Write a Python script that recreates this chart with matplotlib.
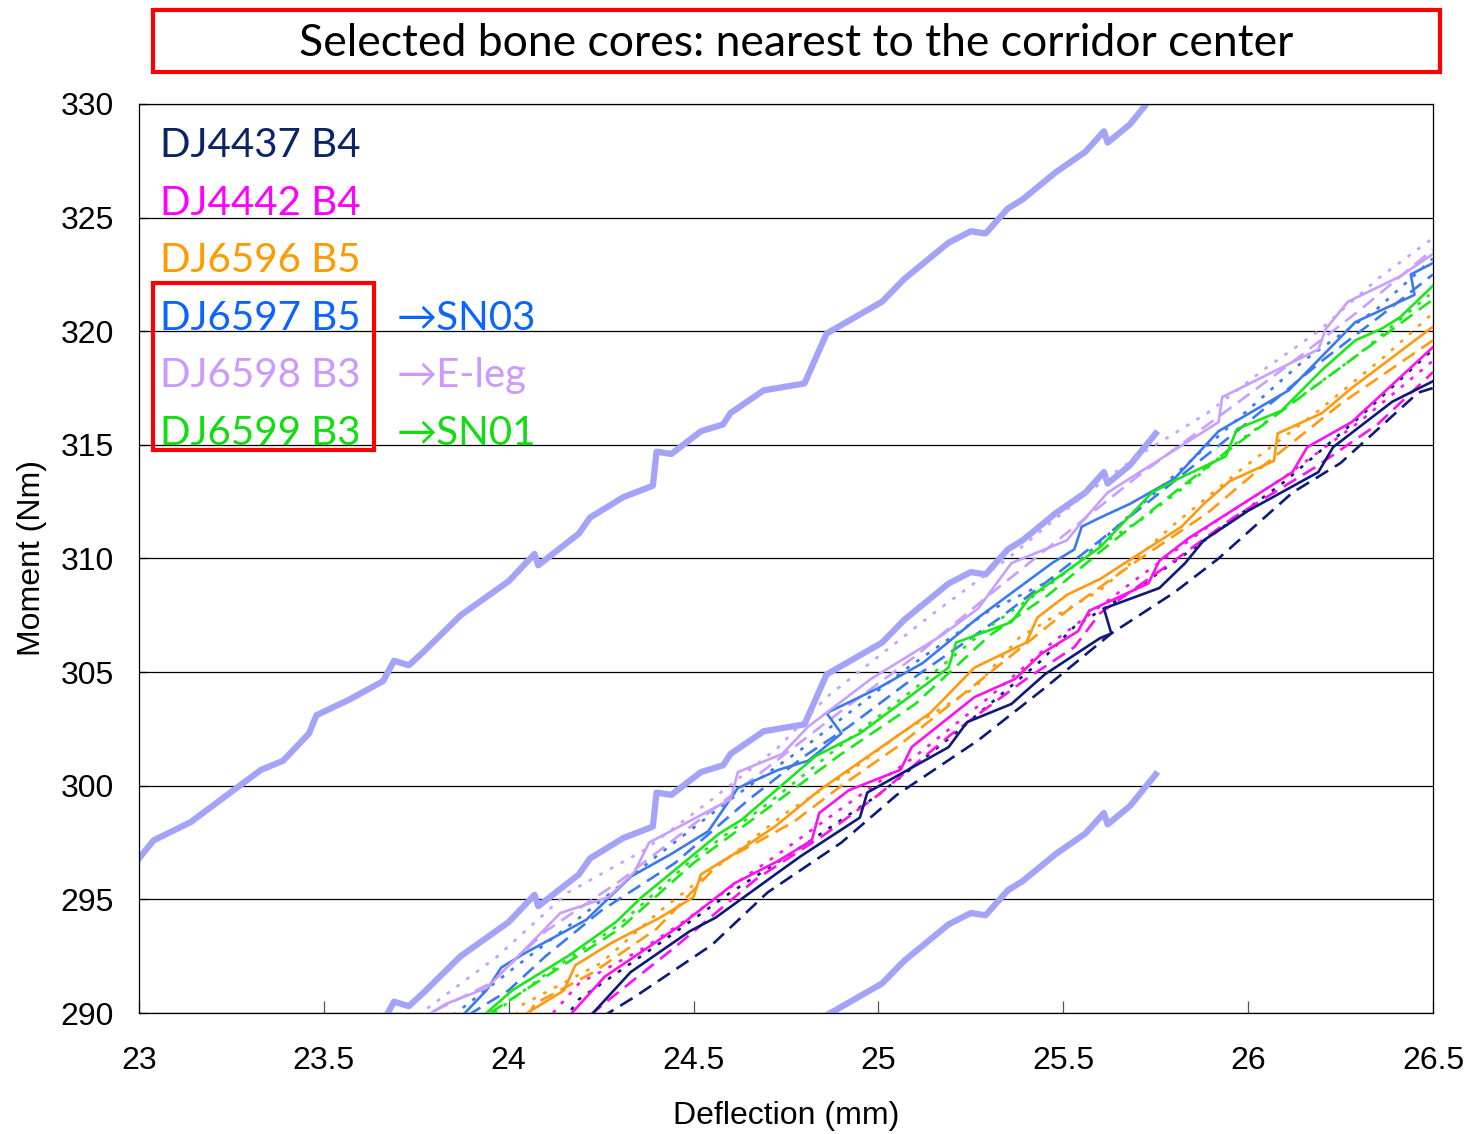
import matplotlib
matplotlib.use('Agg')
import matplotlib.pyplot as plt
from matplotlib.patches import Rectangle

# corridor (upper / center / lower), all on the same deflection points
corr_x = [23.00, 23.04, 23.14, 23.33, 23.39, 23.46, 23.48, 23.57, 23.66, 23.69, 23.73, 23.77, 23.87,
          24.00, 24.07, 24.08, 24.19, 24.22, 24.31, 24.39, 24.40, 24.44, 24.52, 24.58, 24.60, 24.69,
          24.80, 24.86, 25.01, 25.07, 25.19, 25.25, 25.29, 25.35, 25.39, 25.48, 25.56, 25.61, 25.62,
          25.68, 25.75]
corr_upper = [296.8, 297.6, 298.4, 300.7, 301.1, 302.3, 303.1, 303.8, 304.6, 305.5, 305.3, 305.9, 307.5,
              309.0, 310.2, 309.7, 311.1, 311.8, 312.7, 313.2, 314.7, 314.6, 315.6, 315.9, 316.4, 317.4,
              317.7, 319.9, 321.3, 322.3, 323.9, 324.4, 324.3, 325.4, 325.8, 327.0, 327.9, 328.8, 328.3,
              329.1, 330.5]
corr_center = [281.8, 282.6, 283.4, 285.7, 286.1, 287.3, 288.1, 288.8, 289.6, 290.5, 290.3, 290.9, 292.5,
               294.0, 295.2, 294.7, 296.1, 296.8, 297.7, 298.2, 299.7, 299.6, 300.6, 300.9, 301.4, 302.4,
               302.7, 304.9, 306.3, 307.3, 308.9, 309.4, 309.3, 310.4, 310.8, 312.0, 312.9, 313.8, 313.3,
               314.1, 315.5]
corr_lower = [266.8, 267.6, 268.4, 270.7, 271.1, 272.3, 273.1, 273.8, 274.6, 275.5, 275.3, 275.9, 277.5,
              279.0, 280.2, 279.7, 281.1, 281.8, 282.7, 283.2, 284.7, 284.6, 285.6, 285.9, 286.4, 287.4,
              287.7, 289.9, 291.3, 292.3, 293.9, 294.4, 294.3, 295.4, 295.8, 297.0, 297.9, 298.8, 298.3,
              299.1, 300.5]

# DJ4437 B4
dj4437_solid_x = [24.20, 24.33, 24.49, 24.56, 24.73, 24.79, 24.95, 24.97, 25.19, 25.24, 25.36, 25.45,
                  25.60, 25.63, 25.61, 25.76, 25.83, 25.88, 26.00, 26.19, 26.23, 26.39, 26.50]
dj4437_solid_y = [289.5, 291.8, 293.6, 294.2, 296.2, 296.9, 298.6, 299.7, 301.7, 302.8, 303.6, 304.9,
                  306.5, 306.7, 307.8, 308.7, 309.8, 310.8, 312.1, 313.8, 314.9, 316.9, 317.8]
dj4437_dash_x = [24.25, 24.34, 24.55, 24.70, 24.90, 25.05, 25.27, 25.45, 25.63, 25.80, 25.92, 26.12,
                 26.25, 26.46, 26.50]
dj4437_dash_y = [289.8, 290.7, 293.0, 295.3, 297.5, 299.6, 302.0, 304.3, 306.7, 308.5, 310.0, 312.9,
                 314.2, 317.3, 317.5]
dj4437_dot_x = [24.15, 24.19, 24.42, 24.60, 24.80, 25.00, 25.20, 25.44, 25.53, 25.70, 25.90, 26.10,
                26.30, 26.50]
dj4437_dot_y = [289.7, 290.6, 293.2, 295.3, 297.4, 299.6, 302.2, 305.5, 307.0, 308.7, 311.0, 313.4,
                316.2, 319.2]

# DJ4442 B4
dj4442_solid_x = [24.16, 24.26, 24.46, 24.61, 24.73, 24.82, 24.84, 24.92, 25.06, 25.09, 25.26, 25.37,
                  25.44, 25.54, 25.57, 25.73, 25.76, 25.84, 26.12, 26.16, 26.28, 26.50]
dj4442_solid_y = [289.8, 291.6, 293.8, 295.7, 296.7, 297.6, 298.8, 299.8, 300.7, 301.7, 303.9, 304.7,
                  305.8, 306.8, 307.7, 308.9, 309.9, 310.9, 313.8, 314.9, 316.0, 319.3]
dj4442_dash_x = [24.22, 24.28, 24.45, 24.67, 24.85, 25.00, 25.20, 25.40, 25.53, 25.60, 25.80, 25.96,
                 26.18, 26.35, 26.50]
dj4442_dash_y = [289.9, 290.7, 292.9, 295.9, 297.8, 299.6, 302.3, 304.7, 306.1, 307.6, 309.9, 311.8,
                 314.0, 315.9, 318.2]
dj4442_dot_x = [24.12, 24.19, 24.27, 24.37, 24.48, 24.64, 24.73, 24.90, 25.10, 25.30, 25.47, 25.69,
                25.90, 26.10, 26.30, 26.50]
dj4442_dot_y = [290.0, 291.3, 292.0, 292.9, 294.1, 296.0, 297.0, 299.0, 301.3, 303.9, 306.3, 309.0,
                311.5, 313.6, 316.0, 318.7]

# DJ6596 B5
dj6596_solid_x = [24.03, 24.15, 24.18, 24.28, 24.41, 24.50, 24.52, 24.61, 24.72, 24.84, 25.14, 25.26,
                  25.40, 25.43, 25.51, 25.60, 25.82, 25.88, 25.95, 26.07, 26.08, 26.20, 26.28, 26.50]
dj6596_solid_y = [289.8, 291.0, 292.1, 293.1, 294.2, 295.1, 296.1, 297.0, 298.2, 299.8, 303.2, 305.2,
                  306.3, 307.4, 308.4, 309.1, 311.4, 312.4, 313.4, 314.3, 315.5, 316.4, 317.5, 320.2]
dj6596_dash_x = [24.05, 24.07, 24.23, 24.40, 24.57, 24.77, 24.90, 25.05, 25.25, 25.51, 25.70, 25.89,
                 26.05, 26.25, 26.50]
dj6596_dash_y = [289.8, 290.4, 291.8, 293.7, 296.6, 298.4, 300.0, 301.7, 304.3, 307.7, 309.9, 312.0,
                 314.2, 316.8, 319.6]
dj6596_dot_x = [24.02, 24.03, 24.25, 24.41, 24.60, 24.75, 24.92, 25.06, 25.26, 25.38, 25.46, 25.60,
                25.80, 25.98, 26.19, 26.37, 26.50]
dj6596_dot_y = [289.9, 290.3, 292.2, 294.5, 296.9, 298.8, 300.6, 302.3, 304.3, 306.5, 307.3, 308.6,
                311.5, 313.9, 316.5, 318.9, 320.8]

# DJ6597 B5
dj6597_solid_x = [23.87, 23.94, 23.98, 24.04, 24.21, 24.33, 24.44, 24.54, 24.62, 24.73, 24.81, 24.90,
                  24.86, 25.00, 25.12, 25.27, 25.37, 25.47, 25.53, 25.55, 25.60, 25.68, 25.80, 25.92,
                  26.11, 26.29, 26.45, 26.44, 26.50]
dj6597_solid_y = [289.8, 291.0, 292.0, 292.6, 294.1, 296.0, 297.0, 298.0, 299.9, 300.7, 301.1, 302.3,
                  303.2, 304.3, 305.4, 307.4, 308.6, 309.8, 310.4, 311.4, 311.8, 312.4, 313.5, 315.6,
                  317.4, 320.4, 321.6, 322.5, 323.0]
dj6597_dash_x = [23.89, 24.00, 24.10, 24.25, 24.45, 24.65, 24.80, 24.92, 25.10, 25.33, 25.60, 25.80,
                 26.00, 26.20, 26.36, 26.50]
dj6597_dash_y = [289.9, 291.0, 292.5, 294.5, 296.6, 299.4, 301.3, 302.6, 304.8, 307.4, 310.8, 313.4,
                 316.0, 318.7, 320.7, 322.5]
dj6597_dot_x = [23.85, 24.00, 24.20, 24.40, 24.60, 24.80, 25.08, 25.30, 25.51, 25.70, 25.90, 26.15,
                26.35, 26.50]
dj6597_dot_y = [289.9, 291.8, 294.3, 296.9, 299.4, 301.7, 305.2, 307.7, 309.4, 312.2, 315.1, 318.7,
                321.0, 323.2]

# DJ6598 B3
dj6598_solid_x = [23.79, 23.83, 23.94, 24.05, 24.14, 24.27, 24.34, 24.38, 24.60, 24.62, 24.74, 24.81,
                  24.98, 25.17, 25.27, 25.36, 25.51, 25.55, 25.62, 25.92, 25.93, 26.14, 26.19, 26.21,
                  26.27, 26.41, 26.50]
dj6598_solid_y = [290.0, 290.4, 291.1, 292.9, 294.4, 295.1, 296.2, 297.5, 299.4, 300.6, 301.4, 302.6,
                  304.7, 306.6, 307.8, 309.8, 310.8, 311.6, 312.9, 316.0, 317.1, 318.8, 319.2, 320.1,
                  321.3, 322.4, 323.4]
dj6598_dash_x = [23.80, 23.95, 24.10, 24.30, 24.50, 24.70, 24.90, 25.10, 25.30, 25.50, 25.70, 25.90,
                 26.10, 26.30, 26.50]
dj6598_dash_y = [290.1, 291.3, 293.6, 295.8, 298.3, 300.8, 303.3, 305.7, 308.4, 311.0, 313.6, 316.0,
                 318.4, 320.9, 323.6]
dj6598_dot_x = [23.78, 23.97, 24.16, 24.37, 24.55, 24.73, 24.86, 25.15, 25.35, 25.55, 25.70, 25.89,
                26.05, 26.19, 26.35, 26.50]
dj6598_dot_y = [290.2, 292.5, 295.3, 297.2, 299.4, 301.7, 303.9, 307.6, 310.0, 312.7, 314.5, 316.4,
                318.4, 320.0, 322.3, 324.1]

# DJ6599 B3
dj6599_solid_x = [23.94, 24.01, 24.16, 24.29, 24.36, 24.57, 24.63, 24.83, 24.95, 25.19, 25.21, 25.36,
                  25.41, 25.60, 25.74, 25.81, 25.94, 25.97, 26.09, 26.20, 26.29, 26.36, 26.41, 26.50]
dj6599_solid_y = [290.0, 291.0, 292.5, 294.0, 295.1, 297.9, 298.5, 301.3, 302.3, 305.2, 306.3, 307.2,
                  308.3, 310.5, 312.9, 313.5, 314.5, 315.7, 316.5, 318.3, 319.6, 320.1, 320.6, 322.0]
dj6599_dash_x = [23.95, 24.10, 24.30, 24.50, 24.70, 24.90, 25.10, 25.30, 25.46, 25.60, 25.80, 25.95,
                 26.10, 26.30, 26.50]
dj6599_dash_y = [290.0, 291.6, 293.7, 296.6, 299.0, 301.4, 303.6, 306.6, 308.4, 310.3, 312.9, 314.8,
                 316.6, 319.0, 321.4]
dj6599_dot_x = [23.96, 24.10, 24.30, 24.50, 24.70, 24.90, 25.10, 25.30, 25.46, 25.60, 25.71, 25.84,
                25.97, 26.09, 26.30, 26.49]
dj6599_dot_y = [290.0, 291.7, 293.9, 296.8, 299.2, 301.8, 304.3, 307.0, 308.8, 310.6, 311.7, 313.3,
                315.1, 316.5, 319.0, 321.6]

labels = ['DJ4437 B4', 'DJ4442 B4', 'DJ6596 B5', 'DJ6597 B5', 'DJ6598 B3', 'DJ6599 B3']
notes = ['', '', '', '\u2192SN03', '\u2192E-leg', '\u2192SN01']
text_colors = ['#0B2463', '#FF00FF', '#FF9A00', '#0A64FF', '#CC99FF', '#11DD11']
line_colors = ['#0D1A78', '#FF10F0', '#FF9A10', '#3A7AEE', '#C7A0FF', '#18E818']

curves = [
    (dj4437_solid_x, dj4437_solid_y, dj4437_dash_x, dj4437_dash_y, dj4437_dot_x, dj4437_dot_y),
    (dj4442_solid_x, dj4442_solid_y, dj4442_dash_x, dj4442_dash_y, dj4442_dot_x, dj4442_dot_y),
    (dj6596_solid_x, dj6596_solid_y, dj6596_dash_x, dj6596_dash_y, dj6596_dot_x, dj6596_dot_y),
    (dj6597_solid_x, dj6597_solid_y, dj6597_dash_x, dj6597_dash_y, dj6597_dot_x, dj6597_dot_y),
    (dj6598_solid_x, dj6598_solid_y, dj6598_dash_x, dj6598_dash_y, dj6598_dot_x, dj6598_dot_y),
    (dj6599_solid_x, dj6599_solid_y, dj6599_dash_x, dj6599_dash_y, dj6599_dot_x, dj6599_dot_y),
]

plt.rcParams['font.family'] = ['Liberation Sans', 'DejaVu Sans']
calibri = ['Lato', 'DejaVu Sans']

fig = plt.figure(figsize=(14.75, 11.34), dpi=100)
ax = fig.add_axes([0.0942, 0.1067, 0.8773, 0.8016])

# corridor
corr_color = '#A3A3F7'
for cy in (corr_upper, corr_center, corr_lower):
    ax.plot(corr_x, cy, color=corr_color, linewidth=4.5, solid_joinstyle='round', zorder=2)

# specimen curves
for (sx, sy, dx, dy, px, py), c in zip(curves, line_colors):
    ax.plot(px, py, color=c, linewidth=1.9, dashes=(1.4, 3.2), zorder=3)
    ax.plot(dx, dy, color=c, linewidth=1.9, dashes=(5.5, 3.0), zorder=3)
    ax.plot(sx, sy, color=c, linewidth=1.9, zorder=4)

ax.set_xlim(23, 26.5)
ax.set_ylim(290, 330)
ax.set_xticks([23, 23.5, 24, 24.5, 25, 25.5, 26, 26.5])
ax.set_xticklabels(['23', '23.5', '24', '24.5', '25', '25.5', '26', '26.5'])
ax.set_yticks(range(290, 331, 5))
ax.yaxis.grid(True, color='black', linewidth=0.9)
ax.set_axisbelow(True)
ax.tick_params(axis='x', direction='in', length=9, width=0.9, color='#555555', labelsize=23, pad=24)
ax.tick_params(axis='y', direction='in', length=6, width=0.9, labelsize=23, pad=18)
for s in ax.spines.values():
    s.set_linewidth(0.9)
ax.set_xlabel('Deflection (mm)', fontsize=23, labelpad=18)
ax.set_ylabel('Moment (Nm)', fontsize=23, labelpad=10)

# specimen labels
base_y = [0.9417, 0.8779, 0.8152, 0.7514, 0.6887, 0.6249]
for lab, note, c, yy in zip(labels, notes, text_colors, base_y):
    ax.text(0.0162, yy, lab, transform=ax.transAxes, color=c, fontsize=29,
            family=calibri, va='baseline', ha='left')
    if note:
        ax.text(0.1994, yy, note, transform=ax.transAxes, color=c, fontsize=29,
                family=calibri, va='baseline', ha='left')

ax.add_patch(Rectangle((0.0108, 0.6194), 0.1708, 0.1837, transform=ax.transAxes,
                       fill=False, edgecolor='#FF0000', linewidth=3, clip_on=False, zorder=6))

# title box
fig.patches.append(Rectangle((0.1037, 0.9365), 0.8725, 0.0547, transform=fig.transFigure,
                             fill=False, edgecolor='#FF0000', linewidth=3))
fig.text(0.5397, 0.962, 'Selected bone cores: nearest to the corridor center', fontsize=32,
         family=calibri, ha='center', va='center')

plt.savefig('out.png', dpi=100)
